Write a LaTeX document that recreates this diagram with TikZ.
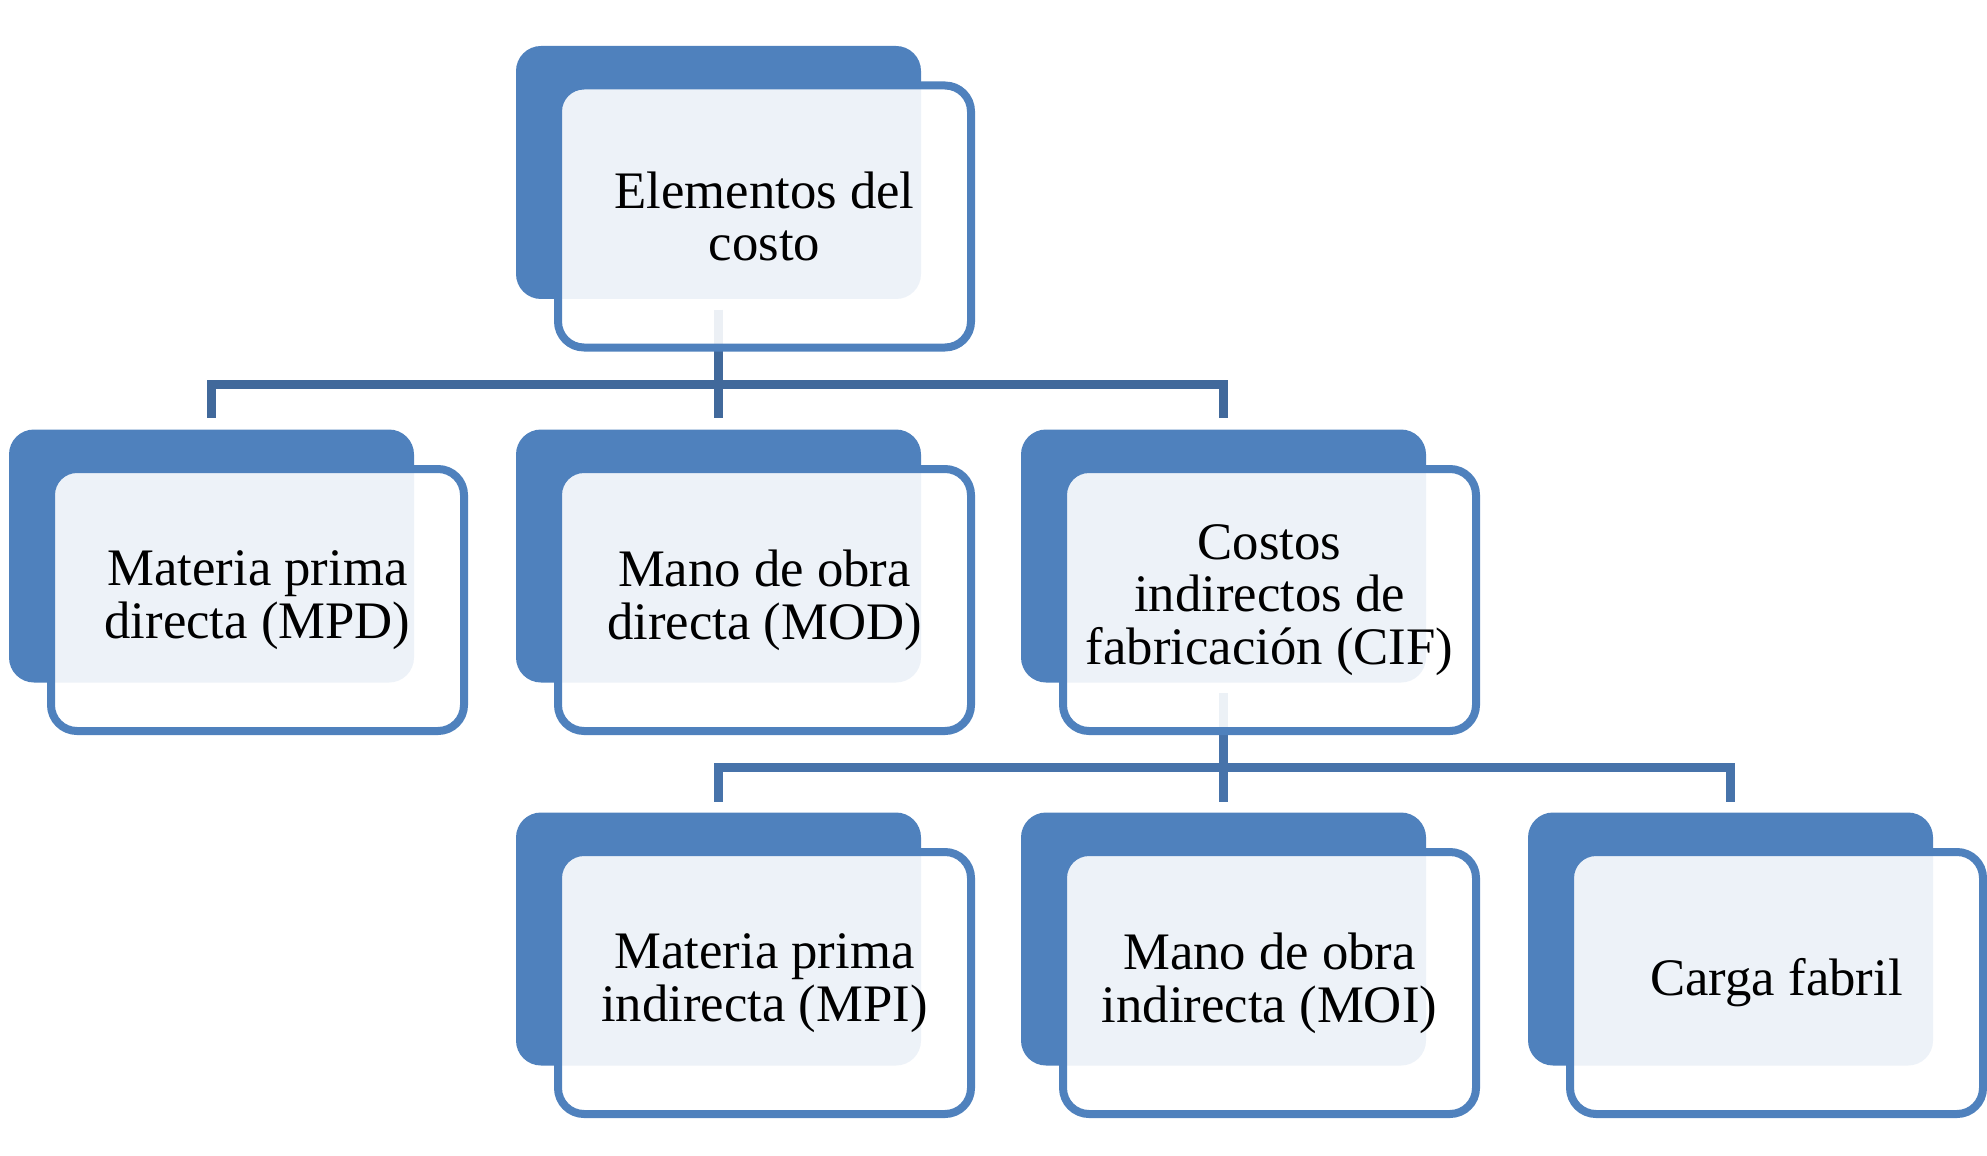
\documentclass[tikz,border=0pt]{standalone}
\usepackage{fontspec}
\setmainfont{Liberation Serif}
\usetikzlibrary{positioning}
\definecolor{ecblue}{HTML}{4F81BD}
\definecolor{ecline}{HTML}{41699B}
\definecolor{eclinetwo}{HTML}{4773AA}

\begin{document}
\begin{tikzpicture}[
      back/.style={fill=ecblue,rounded corners=2.5mm,minimum width=4.05cm,minimum height=2.53cm,inner sep=0pt},
      front/.style={draw=ecblue,line width=0.08cm,fill=white,fill opacity=0.9,text opacity=1,
        rounded corners=2.6mm,minimum width=4.13cm,minimum height=2.62cm,align=center,inner sep=0pt,
        font=\fontsize{15}{15}\selectfont},
      conn/.style={line width=0.09cm}
    ]
    \useasboundingbox (0,0) rectangle (19.87,-11.55);
    % dark back plates
    \foreach \n/\x/\y in {ec/7.185/-1.725,mpd/2.115/-5.56,mod/7.185/-5.56,cif/12.235/-5.56,
                          mpi/7.185/-9.39,moi/12.235/-9.39,cf/17.305/-9.39}{
      \node[back] (\n B) at (\x,\y) {};
    }
    % connectors
    \draw[conn,ecline] ([yshift=-1mm]ecB.south) -- ([yshift=1.1mm]modB.north);
    \draw[conn,ecline] ([yshift=1.1mm]mpdB.north) -- ([yshift=4.4mm]mpdB.north)
      -- ([yshift=4.4mm]cifB.north) -- ([yshift=1.1mm]cifB.north);
    \draw[conn,eclinetwo] ([yshift=-1mm]cifB.south) -- ([yshift=1mm]moiB.north);
    \draw[conn,eclinetwo] ([yshift=1mm]mpiB.north) -- ([yshift=4.4mm]mpiB.north)
      -- ([yshift=4.4mm]cfB.north) -- ([yshift=1mm]cfB.north);
    % text boxes
    \node[front] (ec) at ([shift={(0.46,-0.44)}]ecB) {Elementos del\\costo};
    \node[front] (mpd) at ([shift={(0.46,-0.44)}]mpdB) {Materia prima\\directa (MPD)};
    \node[front] (mod) at ([shift={(0.46,-0.44)}]modB) {Mano de obra\\directa (MOD)};
    \node[front] (cif) at ([shift={(0.46,-0.44)}]cifB) {Costos\\indirectos de\\fabricación (CIF)};
    \node[front] (mpi) at ([shift={(0.46,-0.44)}]mpiB) {Materia prima\\indirecta (MPI)};
    \node[front] (moi) at ([shift={(0.46,-0.44)}]moiB) {Mano de obra\\indirecta (MOI)};
    \node[front] (cf) at ([shift={(0.46,-0.44)}]cfB) {Carga fabril};
  \end{tikzpicture}
\end{document}
